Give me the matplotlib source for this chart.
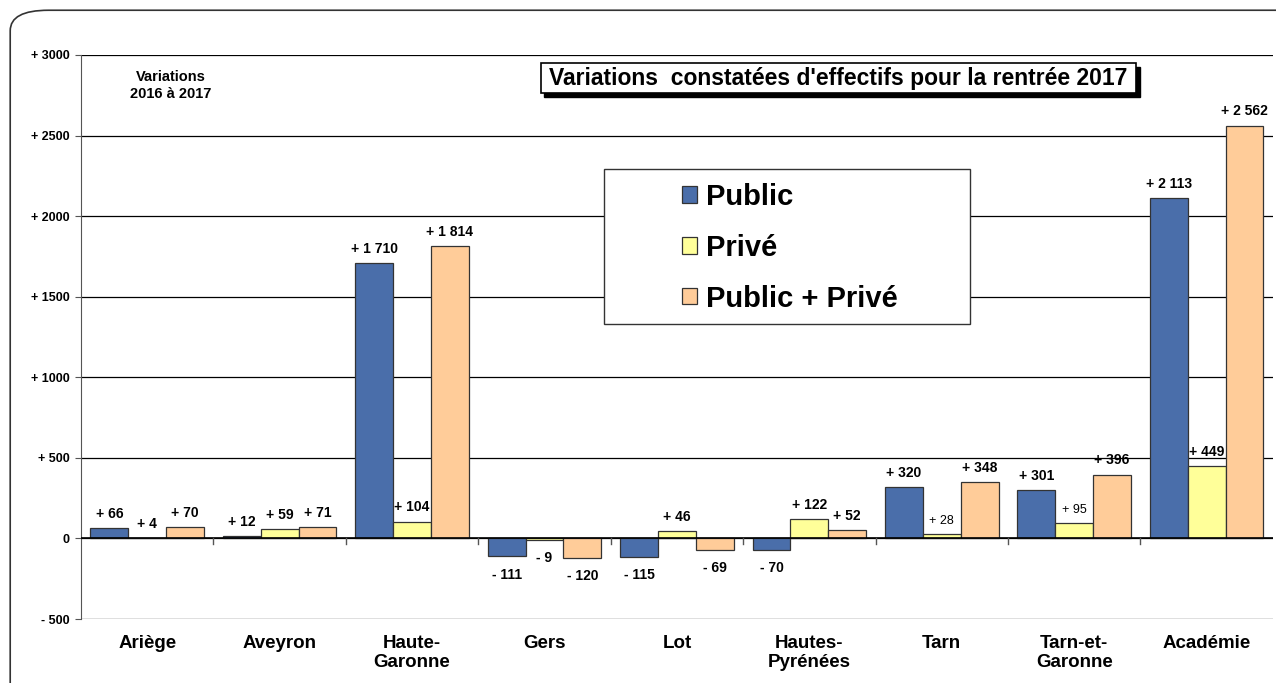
import matplotlib.pyplot as plt
import numpy as np
from matplotlib.patches import FancyBboxPatch, Rectangle

plt.rcParams['font.family'] = ['Liberation Sans', 'DejaVu Sans']

categories = ["Ariège", "Aveyron", "Haute-\nGaronne", "Gers", "Lot", "Hautes-\nPyrénées",
              "Tarn", "Tarn-et-\nGaronne", "Académie"]
public = [66, 12, 1710, -111, -115, -70, 320, 301, 2113]
prive = [4, 59, 104, -9, 46, 122, 28, 95, 449]
total = [70, 71, 1814, -120, -69, 52, 348, 396, 2562]
yticks = [-500, 0, 500, 1000, 1500, 2000, 2500, 3000]
ytick_labels = ["- 500", "0", "+ 500", "+ 1000", "+ 1500", "+ 2000", "+ 2500", "+ 3000"]


def fmt(v):
    s = f"{abs(v):,}".replace(",", " ")
    return ("+ " if v >= 0 else "- ") + s


def main():
    fig = plt.figure(figsize=(12.76, 6.83), dpi=100)
    # outer frame
    fig.patches.append(FancyBboxPatch((0.008, -0.05), 1.2, 1.035, boxstyle="round,pad=0,rounding_size=0.03",
                                      transform=fig.transFigure, fill=False, edgecolor="#333333", lw=1.2))
    ax = fig.add_axes([0.0635, 0.0937, 0.934, 0.8258])

    x = np.arange(len(categories))
    w = 0.286
    series = [(public, "#4a6eaa", "Public"), (prive, "#ffff99", "Privé"), (total, "#ffcc99", "Public + Privé")]
    for i, (vals, col, lab) in enumerate(series):
        ax.bar(x + (i - 1) * w, vals, w, color=col, edgecolor="#333333", linewidth=0.9, label=lab, zorder=3)
        for xi, v in zip(x, vals):
            small = lab == "Privé" and v in (28, 95)
            if v >= 0:
                y = v + 45
                va = "bottom"
            else:
                y = v - 70
                va = "top"
            ax.text(xi + (i - 1) * w, y, fmt(v), ha="center", va=va,
                    fontsize=9 if small else 10, fontweight="normal" if small else "bold", zorder=4)

    ax.set_xlim(-0.5, len(categories) - 0.5)
    ax.set_ylim(-500, 3000)
    ax.set_yticks(yticks)
    ax.set_yticklabels(ytick_labels, fontsize=9, fontweight="bold")
    ax.set_xticks([])
    for yv in yticks:
        ax.axhline(yv, color="black", lw=0.9, zorder=1)
    ax.axhline(0, color="black", lw=1.2, zorder=4)
    for b in np.arange(0.5, len(categories) - 1, 1):
        ax.plot([b, b], [0, -35], color="#555555", lw=1, zorder=4)
    for xi, c in zip(x, categories):
        ax.text(xi, -600, c, ha="center", va="top", fontsize=13.5, fontweight="bold", linespacing=1.15,
                clip_on=False)

    for s in ["top", "right", "bottom"]:
        ax.spines[s].set_visible(False)
    ax.spines["left"].set_color("#555555")
    ax.tick_params(axis="y", length=4, color="#555555", pad=4)

    ax.text(0.18, 2812, "Variations\n2016 à 2017", ha="center", va="center", fontsize=10.5,
            fontweight="bold", linespacing=1.25)

    # title box with shadow
    ax.add_patch(Rectangle((3.0, 2739), 4.5, 186, facecolor="black", edgecolor="black", zorder=5))
    ax.add_patch(Rectangle((2.97, 2764), 4.5, 186, facecolor="white", edgecolor="black", lw=1.2, zorder=6))
    ax.text(5.22, 2857, "Variations  constatées d'effectifs pour la rentrée 2017", ha="center", va="center",
            fontsize=16.5, fontweight="bold", zorder=7)

    # legend box
    ax.add_patch(Rectangle((3.45, 1330), 2.765, 963, facecolor="white", edgecolor="#333333", lw=1, zorder=7))
    leg = ax.legend(loc="upper left", bbox_to_anchor=(0.5045, 0.773), prop={"weight": "bold", "size": 21},
                    frameon=False, handlelength=0.5, handleheight=0.5,
                    handletextpad=0.3, labelspacing=0.78, borderpad=0, borderaxespad=0)
    leg.set_zorder(8)
    fig.savefig("out.png", dpi=100)


if __name__ == "__main__":
    main()
